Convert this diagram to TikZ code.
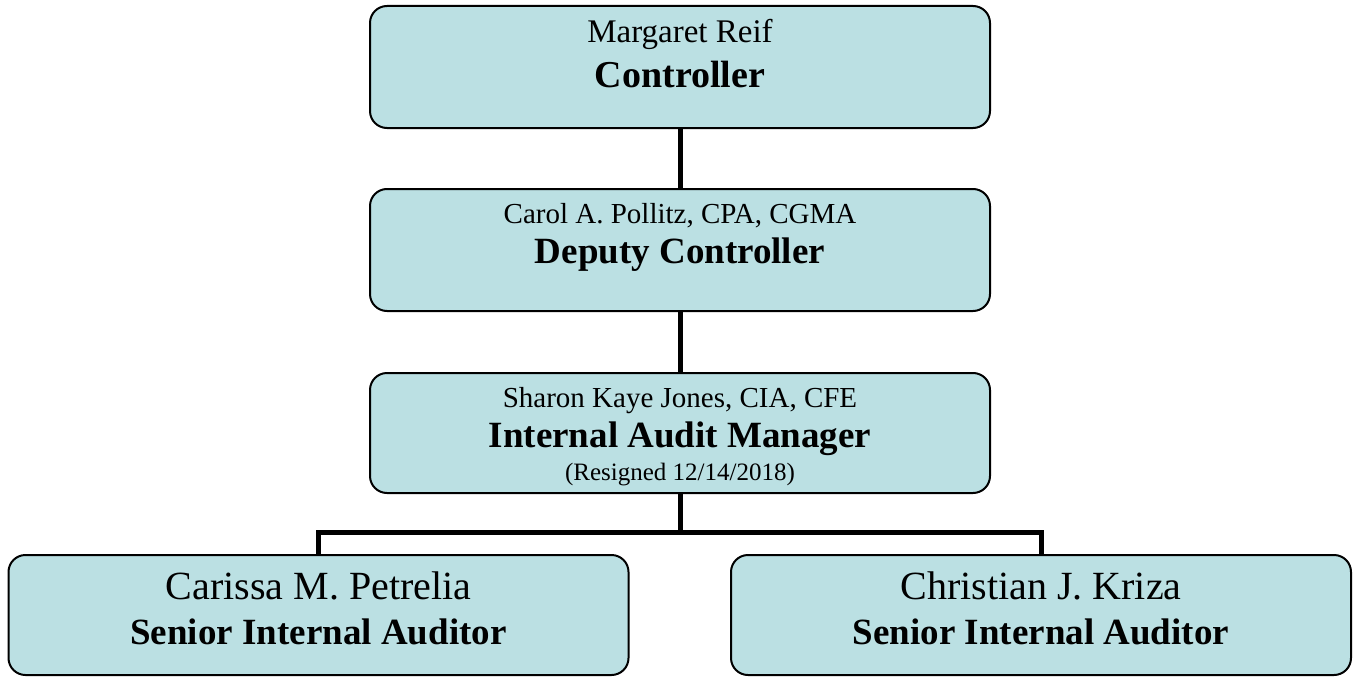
\documentclass[tikz,border=0pt]{standalone}
\usepackage{fontspec}
\setmainfont{Liberation Serif}
\usetikzlibrary{positioning}
\definecolor{boxblue}{RGB}{187,224,227}

\begin{document}
\begin{tikzpicture}[x=1pt,y=1pt,node distance=62pt,
    box/.style={draw,line width=2pt,fill=boxblue,rounded corners=17pt,
      minimum width=620pt,inner sep=0pt,outer sep=0pt,align=center},
    conn/.style={line width=5pt}]

      \useasboundingbox (0,0) rectangle (1354,-677);

      \node (ctrl) [box,text height=81pt,text depth=41pt,
          font=\fontsize{33}{44}\selectfont] at (680,-67)
        {Margaret Reif\\{\fontsize{38}{44}\selectfont\bfseries Controller}};
      \node (deputy) [box,below=61pt of ctrl,text height=74pt,text depth=48pt,
          font=\fontsize{29}{40}\selectfont]
        {Carol A. Pollitz, CPA, CGMA\\{\fontsize{37}{40}\selectfont\bfseries Deputy Controller}};
      \node (mgr) [box,below=62pt of deputy,text height=107pt,text depth=13pt,
          font=\fontsize{29}{40}\selectfont]
        {Sharon Kaye Jones, CIA, CFE\\{\fontsize{37}{40}\selectfont\bfseries Internal Audit Manager}\\[-7pt]
         {\fontsize{25}{30}\selectfont (Resigned 12/14/2018)}};
      \node (aud1) [box,below=62pt of mgr,xshift=-361.5pt,text height=89pt,text depth=31pt,
          font=\fontsize{40}{44.5}\selectfont]
        {Carissa M. Petrelia\\{\fontsize{37}{44.5}\selectfont\bfseries Senior Internal Auditor}};
      \node (aud2) [box,below=62pt of mgr,xshift=361pt,text height=89pt,text depth=31pt,
          font=\fontsize{40}{44.5}\selectfont]
        {Christian J. Kriza\\{\fontsize{37}{44.5}\selectfont\bfseries Senior Internal Auditor}};

      \path[conn]
        (ctrl) edge (deputy)
        (deputy) edge (mgr);
      \draw[conn] (mgr.south) -- ++(0,-39) coordinate (bus);
      \draw[conn] (aud1.north) |- (bus) -| (aud2.north);
    \end{tikzpicture}
\end{document}
